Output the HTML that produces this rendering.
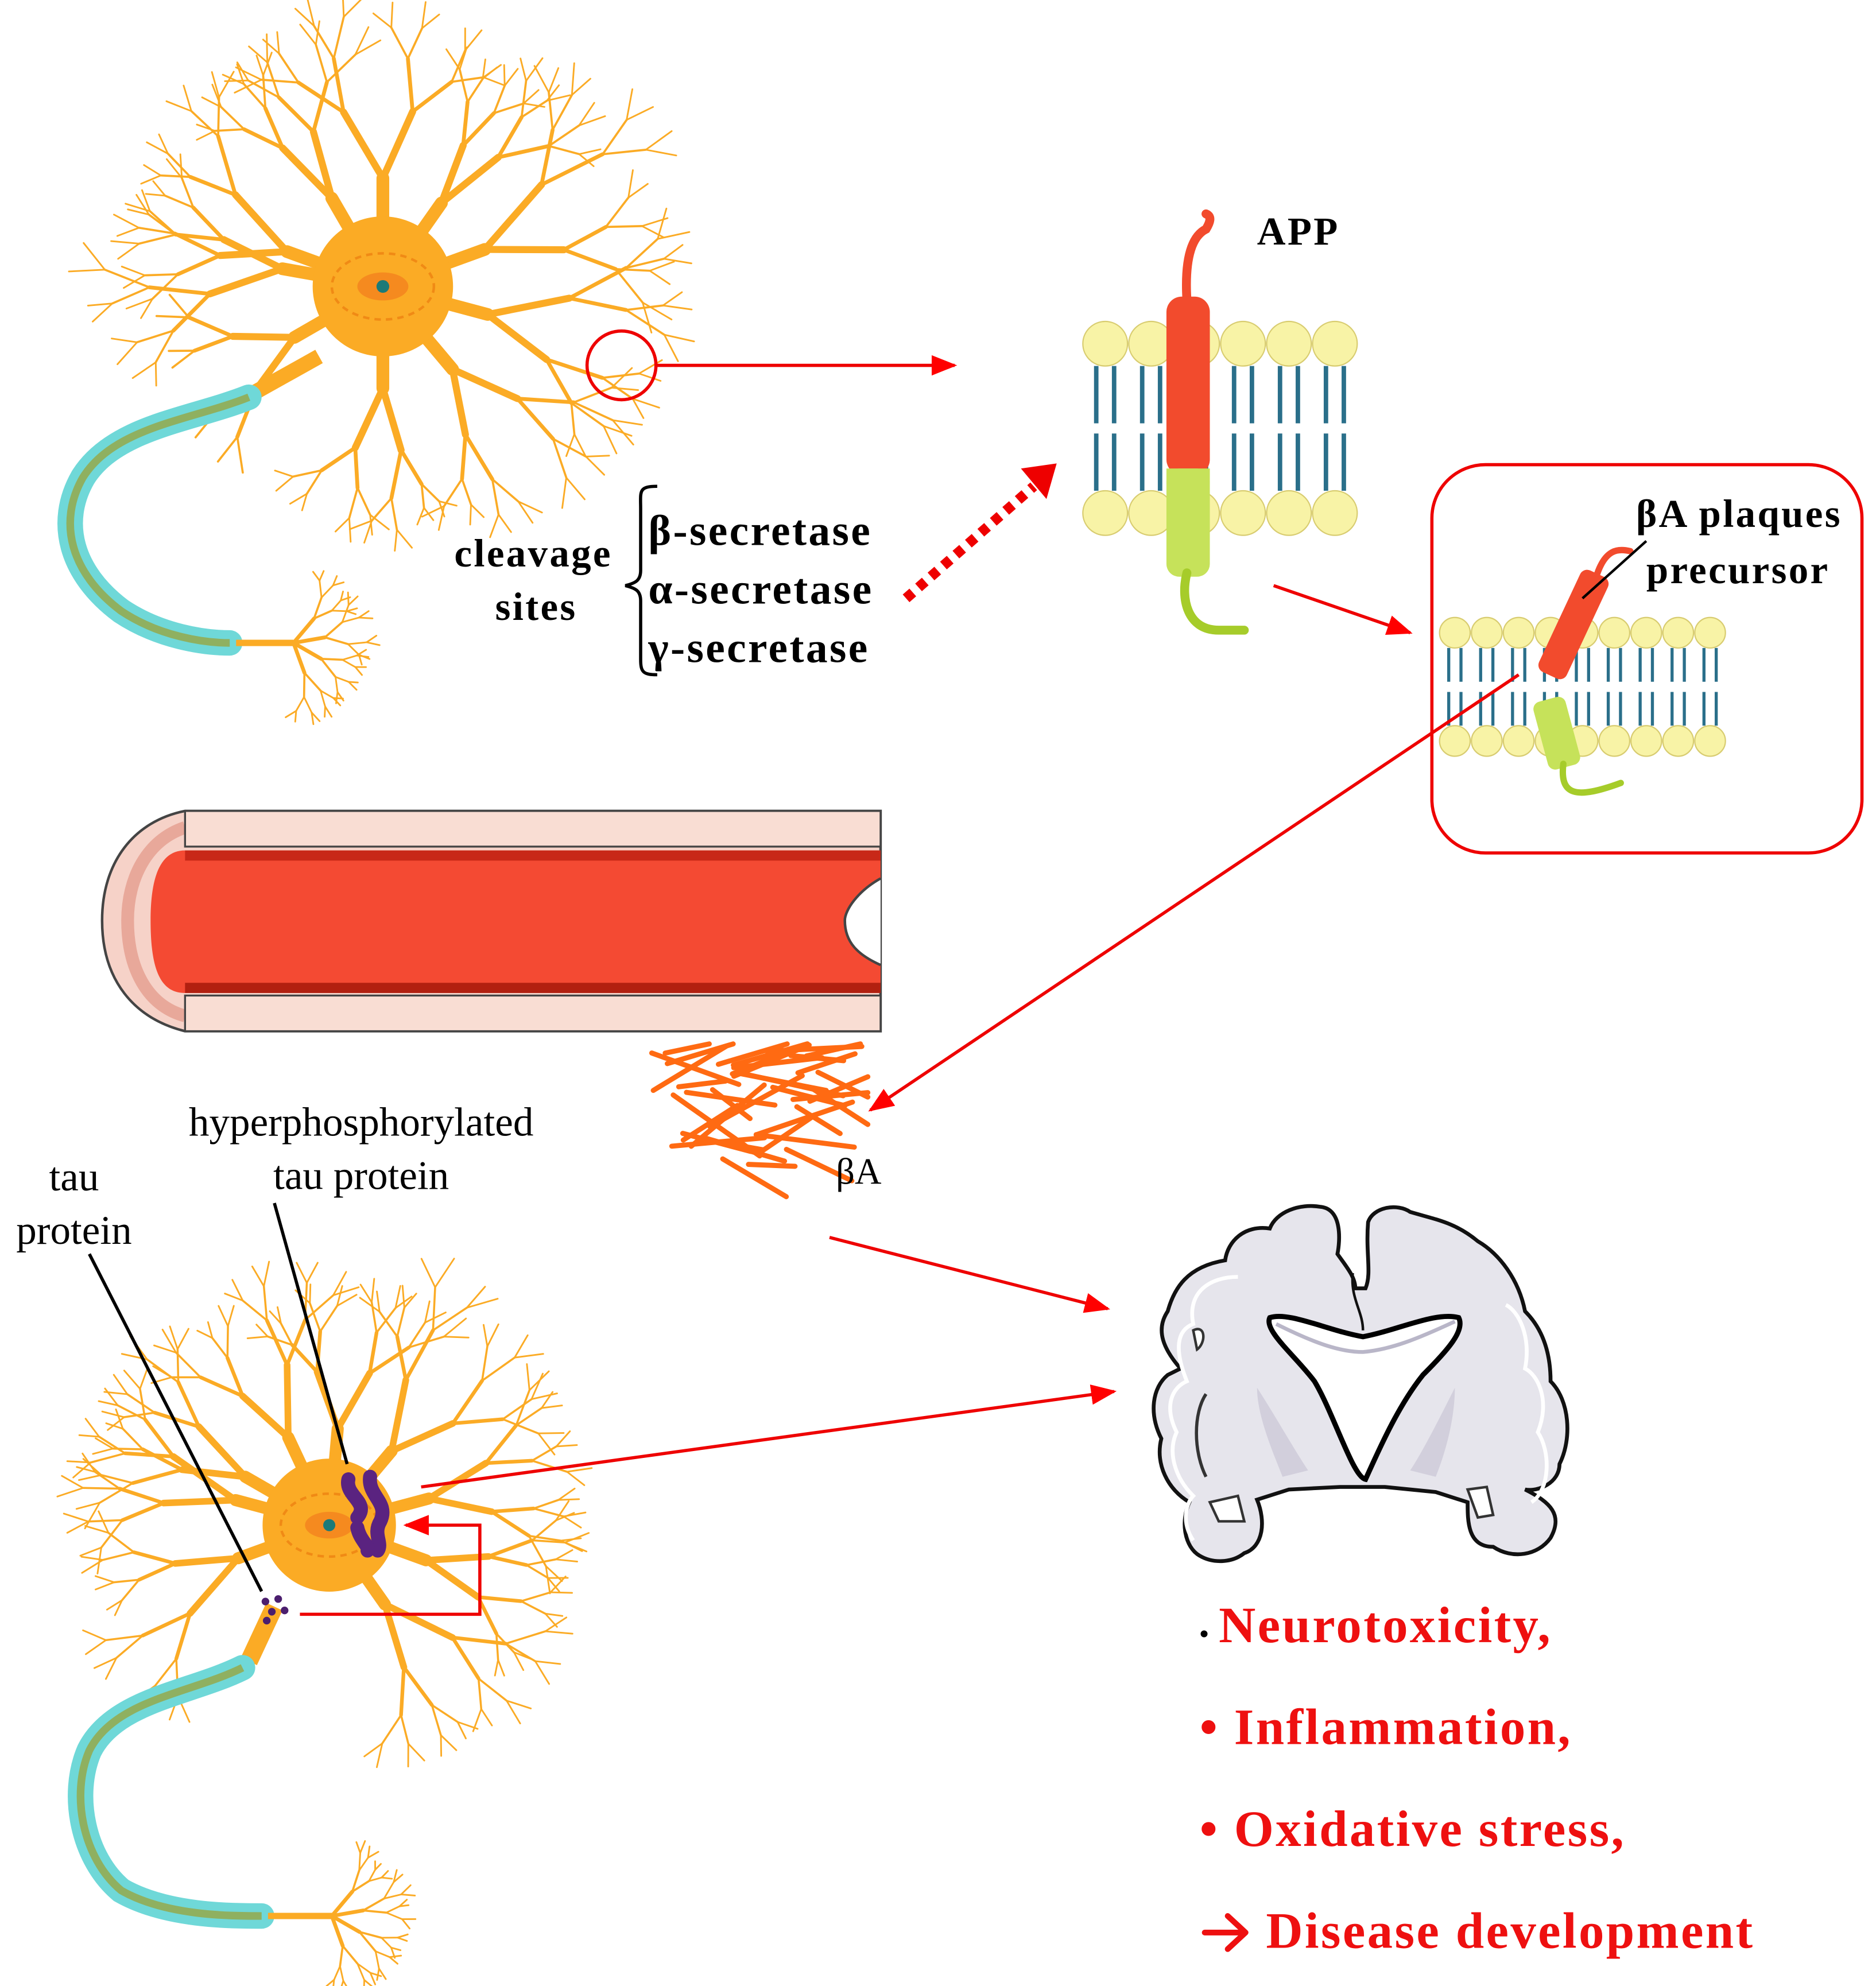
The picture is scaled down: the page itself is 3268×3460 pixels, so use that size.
<!DOCTYPE html>
<html><head><meta charset="utf-8"><style>
html,body{margin:0;padding:0;background:#fff;}
svg{display:block}
.t{font-family:"Liberation Serif",serif;}
</style></head><body>
<svg id="s" width="3268" height="3460" viewBox="0 0 1470 1560" preserveAspectRatio="none" xmlns="http://www.w3.org/2000/svg">
<defs>
<marker id="ah2" markerWidth="20" markerHeight="16" refX="18" refY="8" orient="auto" markerUnits="userSpaceOnUse"><path d="M0,0 L20,8 L0,16 z" fill="#f00"/></marker>
</defs>
<g id="n1"></g>
<g id="n2"></g>

<circle cx="487" cy="287" r="27" fill="none" stroke="#e00" stroke-width="2.5"/>
<line x1="514" y1="287" x2="748" y2="287" stroke="#e00" stroke-width="2.5" marker-end="url(#ah2)"/>

<g id="mem1"></g>
<path d="M930,235 C928,200 935,185 945,180 C948,175 950,170 945,168" fill="none" stroke="#f24b2d" stroke-width="7" stroke-linecap="round"/>
<rect x="914" y="233" width="34" height="140" rx="12" fill="#f24b2d"/>
<rect x="914" y="368" width="34" height="85" rx="10" fill="#c6e25a"/>
<rect x="914" y="368" width="34" height="12" fill="#c6e25a"/>
<path d="M930,450 C925,470 930,495 955,495 L975,495" fill="none" stroke="#a6cc2a" stroke-width="7" stroke-linecap="round"/>
<text x="985" y="192" class="t" font-size="31" font-weight="bold" letter-spacing="1.5">APP</text>

<g class="t" font-weight="bold" letter-spacing="1.5">
<text x="356" y="445" font-size="31">cleavage</text>
<text x="388" y="487" font-size="31">sites</text>
<text x="508" y="428" font-size="34">β-secretase</text>
<text x="508" y="474" font-size="34">α-secretase</text>
<text x="508" y="520" font-size="34">γ-secretase</text>
<text x="1282" y="414" font-size="31">βA plaques</text>
<text x="1290" y="458" font-size="31">precursor</text>
</g>
<path d="M515,382 C500,382 502,386 502,400 L502,448 C502,456 498,458 490,460 C498,462 502,464 502,472 L502,518 C502,528 504,530 515,530" fill="none" stroke="#000" stroke-width="2.5"/>
<line x1="710" y1="470" x2="810" y2="382" stroke="#e00" stroke-width="8" stroke-dasharray="7,6"/>
<path d="M800,368 L828,364 L820,392 z" fill="#e00"/>

<line x1="998" y1="460" x2="1105" y2="497" stroke="#e00" stroke-width="2.5" marker-end="url(#ah2)"/>

<rect x="1122" y="365" width="337" height="305" rx="42" fill="#fff" stroke="#e00" stroke-width="2.5"/>
<g id="mem2"></g>
<g transform="rotate(25 1225 510)">
<rect x="1212" y="445" width="24" height="88" rx="6" fill="#f24b2d"/>
<path d="M1224,445 C1222,425 1230,420 1240,418" fill="none" stroke="#f24b2d" stroke-width="5" stroke-linecap="round"/>
</g>
<g transform="rotate(-15 1222 580)">
<rect x="1208" y="548" width="26" height="55" rx="6" fill="#c6e25a"/>
</g>
<path d="M1225,600 C1222,625 1235,628 1270,615" fill="none" stroke="#a6cc2a" stroke-width="5" stroke-linecap="round"/>
<line x1="1240" y1="470" x2="1290" y2="425" stroke="#000" stroke-width="2"/>
<!-- re-draw labels on top of box -->
<g class="t" font-weight="bold" letter-spacing="1.5">
<text x="1282" y="414" font-size="31">βA plaques</text>
<text x="1290" y="458" font-size="31">precursor</text>
</g>

<line x1="1190" y1="530" x2="682" y2="872" stroke="#e00" stroke-width="2.5" marker-end="url(#ah2)"/>

<path d="M145,637 L690,637 L690,810 L145,810 C105,800 80,770 80,723 C80,677 105,645 145,637 z" fill="#f6d2c8" stroke="#444" stroke-width="2"/>
<path d="M145,650 C115,660 100,690 100,723 C100,760 115,790 145,798" fill="none" stroke="#e8a89a" stroke-width="10"/>
<rect x="145" y="637" width="545" height="28" fill="#f9ddd3" stroke="#444" stroke-width="1.5"/>
<rect x="145" y="782" width="545" height="28" fill="#f9ddd3" stroke="#444" stroke-width="1.5"/>
<path d="M145,668 L690,668 L690,690 C672,700 662,715 662,723 C662,740 672,750 690,758 L690,780 L145,780 C125,780 118,760 118,723 C118,690 125,668 145,668 z" fill="#f44a33"/>
<path d="M145,668 L690,668 L690,676 L145,676 z" fill="#c82818"/>
<path d="M145,772 L690,772 L690,780 L145,780 z" fill="#b22010"/>
<path d="M690,690 C672,700 662,715 662,723 C662,740 672,750 690,758" fill="#fff" stroke="#444" stroke-width="2"/>

<g id="fib" stroke="#ff6a12" stroke-width="4" stroke-linecap="round"></g>
<text x="655" y="930" class="t" font-size="29">βA</text>

<line x1="650" y1="972" x2="868" y2="1028" stroke="#e00" stroke-width="2.5" marker-end="url(#ah2)"/>
<line x1="330" y1="1168" x2="873" y2="1093" stroke="#e00" stroke-width="2.5" marker-end="url(#ah2)"/>

<path d="M940,1222 C928,1215 925,1195 932,1180 C915,1170 905,1150 910,1130 C900,1110 903,1090 915,1080 L925,1075 C912,1060 905,1045 915,1030 C920,1012 930,995 960,990 C962,975 975,962 995,965 C1000,952 1018,945 1035,948 C1052,950 1050,975 1048,985 C1055,995 1062,1003 1062,1012 L1070,1012 C1075,1000 1070,985 1072,960 C1076,948 1095,945 1105,952 C1125,958 1140,960 1158,975 C1175,985 1190,1005 1195,1030 C1210,1045 1215,1065 1215,1085 C1230,1100 1232,1130 1222,1150 C1222,1165 1205,1172 1195,1170 C1215,1180 1225,1190 1215,1208 C1205,1222 1185,1225 1170,1215 C1150,1215 1150,1195 1150,1180 L1125,1172 L1085,1168 L1050,1168 L1010,1170 L985,1178 C992,1195 990,1215 975,1220 C965,1228 950,1228 940,1222 z" fill="#e6e5ec" stroke="#111" stroke-width="3"/>
<path d="M935,1210 C925,1195 930,1180 935,1175 C920,1160 915,1140 922,1125 C912,1105 918,1090 930,1085 C920,1060 922,1045 935,1040 C930,1015 948,1003 970,1003" fill="none" stroke="#fff" stroke-width="3"/>
<path d="M1200,1180 C1215,1170 1215,1140 1205,1125 C1215,1100 1205,1080 1195,1075 C1200,1050 1190,1030 1180,1025" fill="none" stroke="#fff" stroke-width="3"/>
<path d="M995,1035 C1010,1030 1040,1045 1068,1050 C1095,1045 1125,1030 1143,1035 C1148,1045 1135,1060 1115,1080 C1095,1105 1080,1140 1070,1162 C1060,1160 1045,1110 1030,1085 C1015,1065 990,1045 995,1035 z" fill="#fff" stroke="#000" stroke-width="4"/>
<path d="M1000,1040 C1030,1055 1050,1062 1068,1062 C1090,1060 1110,1052 1140,1038" fill="none" stroke="#b9b6c8" stroke-width="3"/>
<path d="M985,1090 C998,1110 1015,1140 1025,1155 L1005,1160 C995,1135 985,1110 985,1090 z" fill="#d2cfdc"/>
<path d="M1140,1090 C1130,1110 1115,1140 1105,1155 L1125,1160 C1135,1135 1140,1110 1140,1090 z" fill="#d2cfdc"/>
<path d="M1060,1000 C1058,1020 1068,1030 1068,1045" fill="none" stroke="#111" stroke-width="2"/>
<path d="M935,1045 C945,1040 945,1055 938,1060 Z" fill="#fff" stroke="#333" stroke-width="2"/>
<path d="M948,1180 L970,1175 L975,1195 L955,1195 Z" fill="#fff" stroke="#333" stroke-width="2"/>
<path d="M1150,1170 L1165,1168 L1170,1190 L1158,1192 Z" fill="#fff" stroke="#333" stroke-width="2"/>
<path d="M945,1095 C935,1110 935,1140 945,1160" fill="none" stroke="#333" stroke-width="2.5"/>

<g class="t" font-size="32" text-anchor="middle">
<text x="283" y="892">hyperphosphorylated</text>
<text x="283" y="934">tau protein</text>
<text x="58" y="935">tau</text>
<text x="58" y="977">protein</text>
</g>
<line x1="70" y1="985" x2="205" y2="1250" stroke="#000" stroke-width="2.5"/>
<line x1="215" y1="945" x2="272" y2="1150" stroke="#000" stroke-width="2.5"/>

<g stroke="#5a2380" stroke-width="11" stroke-linecap="round" fill="none">
<path d="M273,1162 C270,1175 290,1180 280,1192"/>
<path d="M290,1160 C288,1175 305,1180 298,1195 C292,1205 300,1212 296,1218"/>
<path d="M280,1200 C282,1210 290,1215 288,1218"/>
</g>
<g fill="#4b1e6e"><circle cx="208" cy="1258" r="3"/><circle cx="218" cy="1256" r="3"/><circle cx="213" cy="1266" r="3"/><circle cx="223" cy="1265" r="3"/><circle cx="209" cy="1273" r="3"/></g>
<polyline points="235,1268 376,1268 376,1198 318,1198" fill="none" stroke="#e00" stroke-width="2.5" marker-end="url(#ah2)"/>

<g class="t" font-weight="bold" fill="#ee1010" font-size="40" letter-spacing="1.5">
<text x="940" y="1290"><tspan fill="#000" font-size="20">• </tspan>Neurotoxicity,</text>
<text x="940" y="1370">• Inflammation,</text>
<text x="940" y="1450">• Oxidative stress,</text>
<text x="992" y="1530">Disease development</text>
</g>
<path d="M944,1518 L974,1518 M962,1505 L976,1518 L962,1531" fill="none" stroke="#ee1010" stroke-width="4.5" stroke-linecap="round" stroke-linejoin="round"/>
</svg>
<script>
var NS="http://www.w3.org/2000/svg";
var seed=11;function R(){seed=(seed*16807)%2147483647;return seed/2147483647;}
function el(p,t,a){var e=document.createElementNS(NS,t);for(var k in a)e.setAttribute(k,a[k]);p.appendChild(e);return e;}
function tree(g,x,y,ang,len,w,d){
 var x2=x+Math.cos(ang)*len,y2=y+Math.sin(ang)*len;
 el(g,"line",{x1:x,y1:y,x2:x2,y2:y2,stroke:"#fbab25","stroke-width":w,"stroke-linecap":"round"});
 if(d<=0)return;
 for(var i=0;i<2;i++){var a=ang+(i==0?-1:1)*(0.25+R()*0.3);tree(g,x2,y2,a,len*(0.6+R()*0.2),Math.max(1.3,w*0.55),d-1);}
}
function neuron(g,cx,cy,sc,roots){
 roots.forEach(function(r){tree(g,cx,cy,r[0]*Math.PI/180,r[1]*sc,10*sc,r[2]);});
 el(g,"circle",{cx:cx,cy:cy,r:55*sc,fill:"#fbab25"});
 el(g,"ellipse",{cx:cx,cy:cy,rx:40*sc,ry:26*sc,fill:"none",stroke:"#f08a15","stroke-width":2,"stroke-dasharray":"5,4"});
 el(g,"ellipse",{cx:cx,cy:cy,rx:20*sc,ry:11*sc,fill:"#f58a1f"});
 el(g,"circle",{cx:cx,cy:cy,r:5*sc,fill:"#1c7a78"});
}
var n1=document.getElementById("n1"),n2=document.getElementById("n2");
neuron(n1,300,225,1,[[-120,80,4],[-90,85,4],[-55,80,4],[-20,85,4],[15,85,4],[50,85,4],[90,80,4],[150,80,3],[190,80,4],[-160,80,4]]);
(function(){var g=n1;
 el(g,"path",{d:"M250,280 L200,308",stroke:"#fbab25","stroke-width":12,fill:"none"});
 var d="M195,312 C150,330 90,335 65,375 C45,410 55,450 95,480 C125,500 160,505 180,505";
 el(g,"path",{d:d,fill:"none",stroke:"#6fd8d8","stroke-width":20,"stroke-linecap":"round"});
 el(g,"path",{d:d,fill:"none",stroke:"#8fb060","stroke-width":6});
 el(g,"path",{d:"M185,505 L230,505",stroke:"#fbab25","stroke-width":5,fill:"none"});
 [[-50,25,3],[-10,25,3],[30,25,3],[70,25,3]].forEach(function(r){tree(g,230,505,r[0]*Math.PI/180,r[1],3,r[2]);});
})();
neuron(n2,258,1198,0.95,[[-115,80,4],[-85,80,4],[-50,80,4],[-15,85,4],[20,85,4],[55,80,4],[160,80,4],[195,80,4],[-150,80,4]]);
(function(){var g=n2;
 el(g,"path",{d:"M215,1262 L195,1305",stroke:"#fbab25","stroke-width":14,fill:"none"});
 var d="M190,1310 C150,1330 90,1335 70,1375 C55,1410 65,1460 95,1485 C130,1505 180,1505 205,1505";
 el(g,"path",{d:d,fill:"none",stroke:"#6fd8d8","stroke-width":20,"stroke-linecap":"round"});
 el(g,"path",{d:d,fill:"none",stroke:"#8fb060","stroke-width":6});
 el(g,"path",{d:"M210,1505 L260,1505",stroke:"#fbab25","stroke-width":5,fill:"none"});
 [[-50,25,3],[-10,25,3],[30,25,3],[70,25,3]].forEach(function(r){tree(g,260,1505,r[0]*Math.PI/180,r[1],3,r[2]);});
})();
function mem(g,x0,x1,yt,yb,r){
 for(var x=x0;x<=x1;x+=r*2+1){
  var m=(yt+yb)/2;
  el(g,"path",{d:"M"+(x-r*0.4)+","+(yt+r)+" L"+(x-r*0.4)+","+(m-4)+" M"+(x+r*0.4)+","+(yt+r)+" L"+(x+r*0.4)+","+(m-4)+" M"+(x-r*0.4)+","+(m+4)+" L"+(x-r*0.4)+","+(yb-r)+" M"+(x+r*0.4)+","+(m+4)+" L"+(x+r*0.4)+","+(yb-r),stroke:"#2a6f8a","stroke-width":Math.max(2,r/5),fill:"none"});
  el(g,"circle",{cx:x,cy:yt,r:r,fill:"#f8f3a6",stroke:"#d8cc70","stroke-width":1});
  el(g,"circle",{cx:x,cy:yb,r:r,fill:"#f8f3a6",stroke:"#d8cc70","stroke-width":1});
 }
}
mem(document.getElementById("mem1"),866,1070,270,403,17.5);
mem(document.getElementById("mem2"),1140,1350,497,582,12);
var fib=document.getElementById("fib");
for(var i=0;i<38;i++){var a=(R()-0.5)*1.4,l=35+R()*50;var x=505+R()*(160-Math.abs(Math.cos(a))*l*0.5),y=825+R()*100;
 var x2=x+Math.cos(a)*l,y2=y+Math.sin(a)*l; if(x2>680)x2=680; if(y2>940)y2=940; if(y2<820)y2=820;
 el(fib,"line",{x1:x,y1:y,x2:x2,y2:y2});}
</script>
</body></html>
